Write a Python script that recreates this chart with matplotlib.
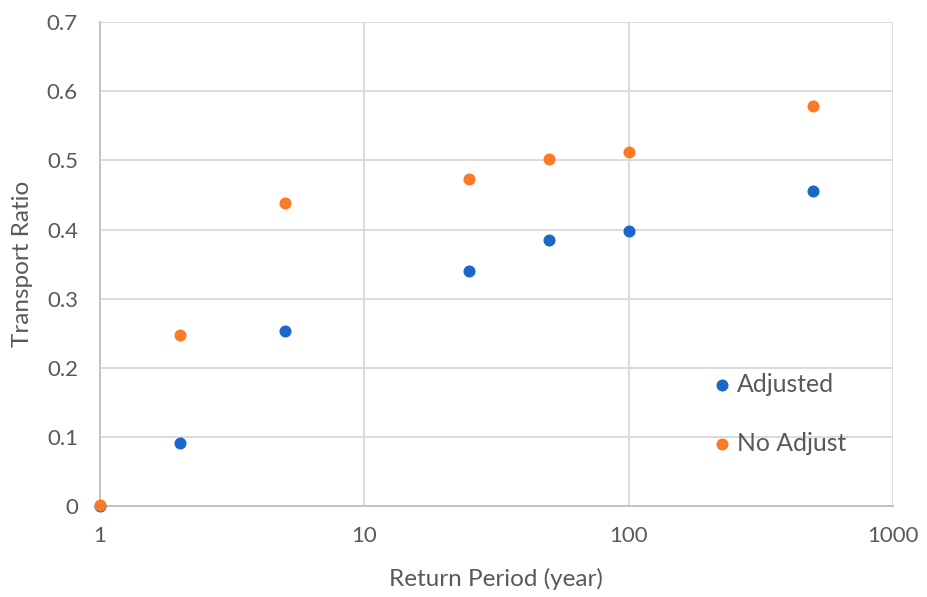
import matplotlib
matplotlib.use("Agg")
import matplotlib.pyplot as plt
from matplotlib.ticker import FixedLocator, FixedFormatter, NullLocator

return_period = [1, 2, 5, 25, 50, 100, 500]
adjusted = [0.0, 0.091, 0.253, 0.340, 0.385, 0.398, 0.456]
no_adjust = [0.002, 0.247, 0.438, 0.473, 0.502, 0.512, 0.579]
x_ticks = [1, 10, 100, 1000]
x_tick_labels = ["1", "10", "100", "1000"]
y_ticks = [0, 0.1, 0.2, 0.3, 0.4, 0.5, 0.6, 0.7]
y_tick_labels = ["0", "0.1", "0.2", "0.3", "0.4", "0.5", "0.6", "0.7"]

plt.rcParams['font.family'] = ['Lato', 'DejaVu Sans']

fig = plt.figure(figsize=(9.27, 5.97), dpi=100)
ax = fig.add_axes([0.108, 0.152, 0.855, 0.811])

blue = "#1b68c9"
orange = "#fb7a26"
ax.scatter(return_period, adjusted, s=75, color=blue, label="Adjusted", zorder=3, clip_on=False, linewidths=0)
ax.scatter(return_period, no_adjust, s=75, color=orange, label="No Adjust", zorder=4, clip_on=False, linewidths=0)

ax.set_xscale("log")
ax.set_xlim(1, 1000)
ax.set_ylim(0, 0.7)
ax.xaxis.set_major_locator(FixedLocator(x_ticks))
ax.xaxis.set_major_formatter(FixedFormatter(x_tick_labels))
ax.xaxis.set_minor_locator(NullLocator())
ax.yaxis.set_major_locator(FixedLocator(y_ticks))
ax.yaxis.set_major_formatter(FixedFormatter(y_tick_labels))

grid_c = "#d9d9d9"
ax.grid(True, which="major", color=grid_c, linewidth=1.3)
ax.set_axisbelow(True)
for side in ["top", "right"]:
    ax.spines[side].set_visible(False)
for side in ["left", "bottom"]:
    ax.spines[side].set_color("#bfbfbf")
    ax.spines[side].set_linewidth(1.3)

ax.tick_params(axis="both", length=0, labelsize=16, colors="#595959")
ax.tick_params(axis="x", pad=14)
ax.tick_params(axis="y", pad=16)

ax.set_xlabel("Return Period (year)", fontsize=17.5, color="#595959", labelpad=16)
ax.set_ylabel("Transport Ratio", fontsize=17.5, color="#595959", labelpad=10)

leg = ax.legend(loc="upper left", bbox_to_anchor=(0.760, 0.296), frameon=False,
                fontsize=17.8, labelspacing=1.45, handlelength=0.8, handletextpad=0.2,
                markerscale=1.0, borderaxespad=0)
for t in leg.get_texts():
    t.set_color("#595959")

fig.savefig("out.png", dpi=100)
